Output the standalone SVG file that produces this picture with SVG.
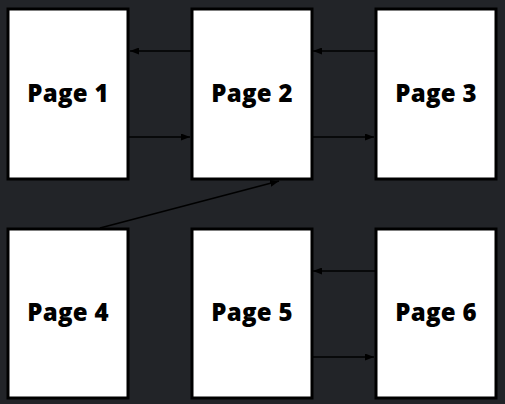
<svg xmlns="http://www.w3.org/2000/svg" width="505" height="404" viewBox="0 0 505 404">
<style>
.page{fill:#ffffff;stroke:#000000;stroke-width:3}
.lbl{font-family:"Open Sans","Liberation Sans",sans-serif;font-weight:800;font-size:24px;letter-spacing:0.3px;fill:#000000;text-anchor:middle}
.edge{stroke:#000000;stroke-width:1.6;fill:none;marker-end:url(#ah)}
</style>
<defs>
<marker id="ah" markerUnits="userSpaceOnUse" markerWidth="10" markerHeight="7" refX="9" refY="3.5" orient="auto">
<path d="M0,0 L9,3.5 L0,7 z" fill="#000000"/>
</marker>
</defs>
<rect width="505" height="404" fill="#222428"/>
<g id="connectors">
<line class="edge" x1="191" y1="51" x2="130" y2="51"/>
<line class="edge" x1="129" y1="137" x2="190" y2="137"/>
<line class="edge" x1="375" y1="51" x2="313" y2="51"/>
<line class="edge" x1="312" y1="137" x2="374" y2="137"/>
<line class="edge" x1="100" y1="228" x2="279" y2="181"/>
<line class="edge" x1="375" y1="271" x2="313" y2="271"/>
<line class="edge" x1="312" y1="357" x2="374" y2="357"/>
</g>
<g id="page1"><rect class="page" x="8" y="9" width="120" height="170"/><text class="lbl" x="68" y="102">Page 1</text></g>
<g id="page2"><rect class="page" x="192" y="9" width="120" height="170"/><text class="lbl" x="252" y="102">Page 2</text></g>
<g id="page3"><rect class="page" x="376" y="9" width="120" height="170"/><text class="lbl" x="436" y="102">Page 3</text></g>
<g id="page4"><rect class="page" x="8" y="229" width="120" height="169"/><text class="lbl" x="68" y="321">Page 4</text></g>
<g id="page5"><rect class="page" x="192" y="229" width="120" height="169"/><text class="lbl" x="252" y="321">Page 5</text></g>
<g id="page6"><rect class="page" x="376" y="229" width="120" height="169"/><text class="lbl" x="436" y="321">Page 6</text></g>
</svg>
